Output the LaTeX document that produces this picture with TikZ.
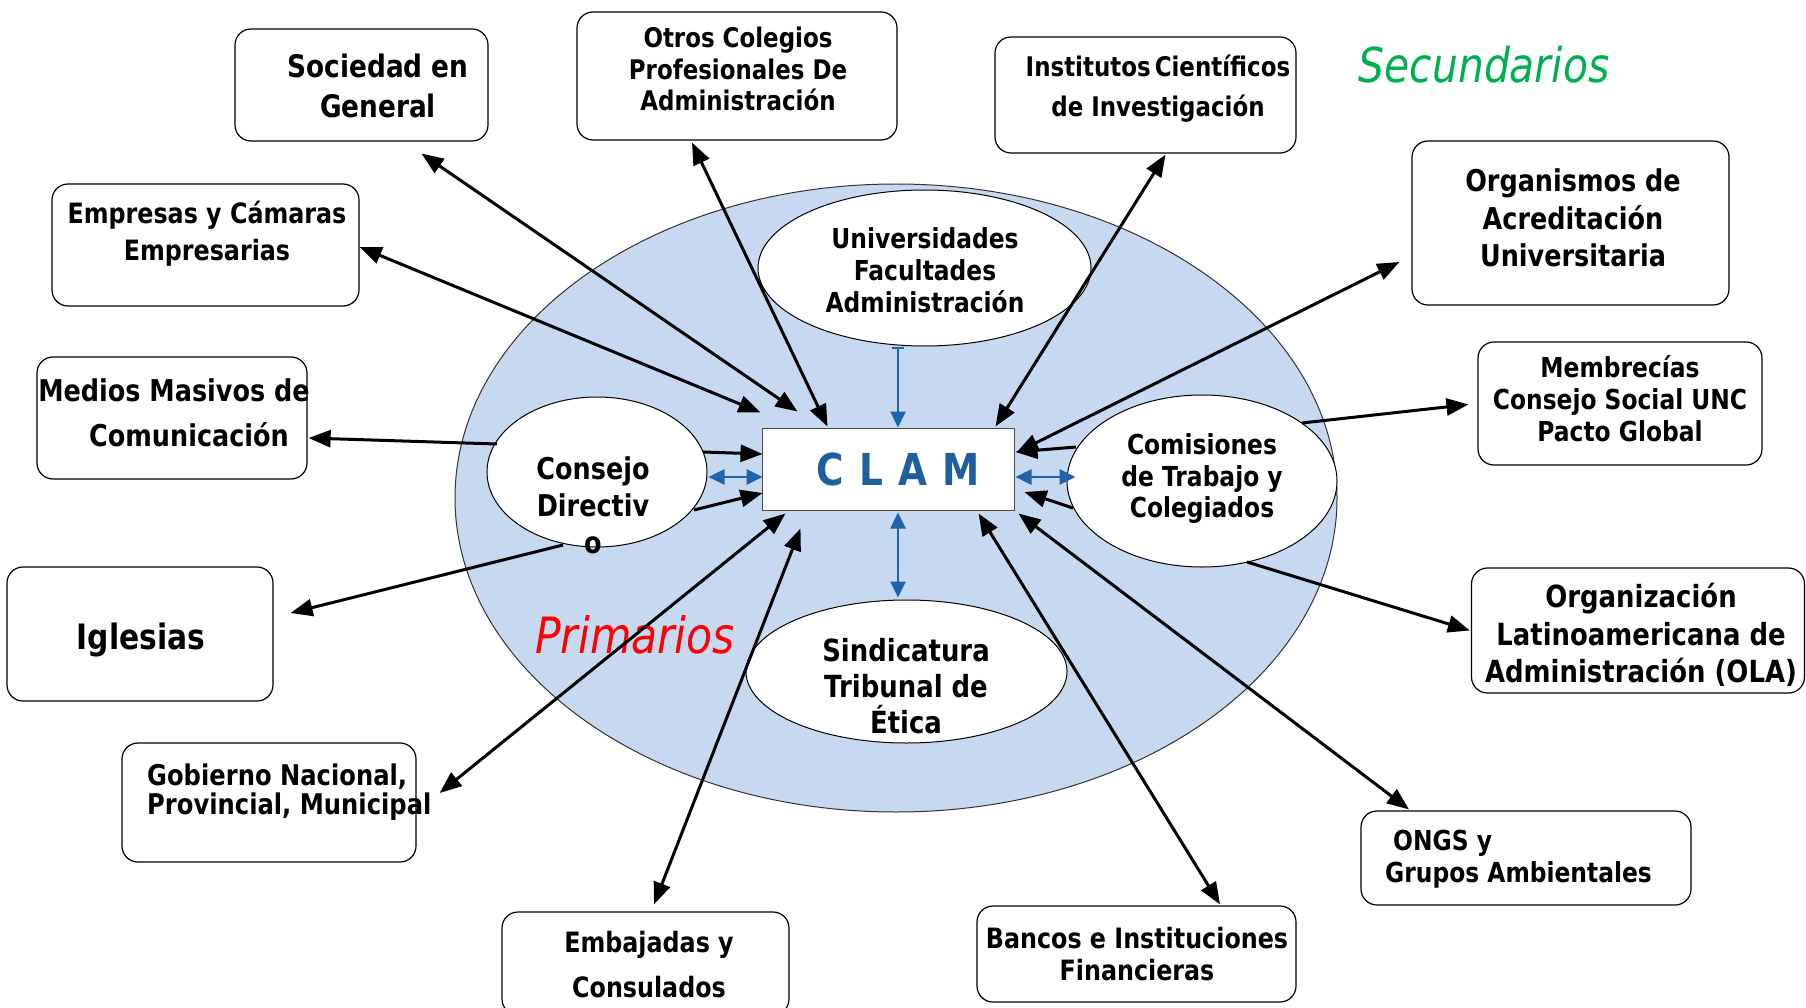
\documentclass[tikz,border=0pt]{standalone}
\usepackage{fontspec}
\setmainfont{DejaVu Sans}[FakeStretch=0.85]
\usetikzlibrary{shapes.geometric,arrows.meta,calc}
\definecolor{ringblue}{RGB}{198,217,240}
\definecolor{clamblue}{RGB}{31,95,160}
\definecolor{arrblue}{RGB}{31,99,168}
\definecolor{secgreen}{RGB}{0,176,80}
\newcommand{\fs}[2]{\fontsize{#1pt}{#2pt}\selectfont}
\begin{document}
\begin{tikzpicture}[x=1pt,y=-1pt,
  box/.style={draw=black, line width=1.2pt, rounded corners=16pt, fill=white, inner sep=0pt},
  oval/.style={ellipse, draw=black, line width=1pt, fill=white, inner sep=0pt},
  lbl/.style={align=center, inner sep=0pt},
  dbl/.style={line width=3pt, {Triangle[length=22pt,width=17pt]}-{Triangle[length=22pt,width=17pt]}},
  one/.style={line width=3pt, -{Triangle[length=22pt,width=17pt]}},
  bdbl/.style={arrblue, line width=2.6pt, {Triangle[length=16pt,width=15pt]}-{Triangle[length=16pt,width=15pt]}},
]
\useasboundingbox (0,0) rectangle (1806,1008);

% central ring
\node[ellipse, draw=black!80, line width=1pt, fill=ringblue, minimum width=882pt, minimum height=628pt, inner sep=0pt] (outer) at (896,498) {};
\node[oval, minimum width=333pt, minimum height=156pt] (univ) at (924.5,268) {};
\node[oval, minimum width=220pt, minimum height=150pt] (cons) at (597,472) {};
\node[oval, minimum width=270pt, minimum height=172pt] (com) at (1202,481) {};
\node[oval, minimum width=321pt, minimum height=143pt] (sind) at (906.5,671.5) {};
\node[draw=black!70, line width=1pt, fill=white, minimum width=252pt, minimum height=82pt, inner sep=0pt] (clam) at (888,469) {};

% outer boxes
\node[box, minimum width=253pt, minimum height=112pt] (soc) at (361.5,85) {};
\node[box, minimum width=320pt, minimum height=128pt] (otros) at (737,76) {};
\node[box, minimum width=307pt, minimum height=122pt] (emp) at (205.5,245) {};
\node[box, minimum width=270pt, minimum height=122pt] (medios) at (172,418) {};
\node[box, minimum width=301pt, minimum height=116pt] (inst) at (1145.5,95) {};
\node[box, minimum width=317pt, minimum height=164pt] (org) at (1570.5,223) {};
\node[box, minimum width=284pt, minimum height=123pt] (memb) at (1620,403.5) {};
\node[box, minimum width=333pt, minimum height=125pt] (ola) at (1638,630.5) {};
\node[box, minimum width=330pt, minimum height=94pt] (ongs) at (1526,858) {};
\node[box, minimum width=319pt, minimum height=96pt] (bancos) at (1136.5,954) {};
\node[box, minimum width=287pt, minimum height=103pt] (emb) at (645.5,963.5) {};
\node[box, minimum width=294pt, minimum height=119pt] (gob) at (269,802.5) {};
\node[box, minimum width=266pt, minimum height=134pt] (igl) at (140,634) {};

% texts
\node[lbl, font=\bfseries\fs{31}{40}] (soct) at (378,86) {Sociedad en\\General};
\node[lbl, font=\bfseries\fs{27}{31.5}] (otrost) at (738,69) {Otros Colegios\\Profesionales De\\Administración};
\node[lbl, font=\bfseries\fs{28}{37}] (empt) at (207,234) {Empresas y Cámaras\\Empresarias};
\node[lbl, font=\bfseries\fs{30}{45}] (mediost) at (174,413) {Medios Masivos de\\\hspace*{30pt}Comunicación};
\node[lbl, font=\bfseries\fs{27}{40}] (instt) at (1158,89) {Institutos\hspace{-4pt} Científicos\\de Investigación};
\node[lbl, font=\bfseries\fs{30}{37.5}] (orgt) at (1573,218) {Organismos de\\Acreditación\\Universitaria};
\node[lbl, font=\bfseries\fs{27.5}{32}] (membt) at (1620,399) {Membrecías\\Consejo Social UNC\\Pacto Global};
\node[lbl, font=\bfseries\fs{30.5}{37.5}] (olat) at (1641,635) {Organización\\Latinoamericana de\\Administración (OLA)};
\node[lbl, align=left, anchor=west, font=\bfseries\fs{27.5}{32}] (ongst) at (1385,859) {\hspace*{8pt}ONGS y\\Grupos Ambientales};
\node[lbl, font=\bfseries\fs{28}{32}] (bancost) at (1137,954) {Bancos e Instituciones\\Financieras};
\node[lbl, font=\bfseries\fs{28}{45}] (embt) at (649,965) {Embajadas y\\Consulados};
\node[lbl, align=left, anchor=west, font=\bfseries\fs{28.5}{29}] (gobt) at (147,792) {Gobierno Nacional,\\Provincial, Municipal};
\node[lbl, font=\bfseries\fs{35}{40}] (iglt) at (141,640) {Iglesias};
\node[lbl, font=\bfseries\fs{30}{37}] (const) at (593,505) {Consejo\\Directiv\\o};
\node[lbl, font=\bfseries\fs{27.5}{31.5}] (comt) at (1202,479) {Comisiones\\de Trabajo y\\Colegiados};
\node[lbl, font=\bfseries\fs{27.5}{32}] (univt) at (925,270) {Universidades\\Facultades\\Administración};
\node[lbl, font=\bfseries\fs{30.5}{36}] (sindt) at (906,686) {Sindicatura\\Tribunal de\\Ética};
\node[lbl, text=clamblue, font=\bfseries\fs{44}{44}] (clamt) at (898,469) {\spaceskip=15pt\relax C L A M};
\node[lbl, text=red, font=\itshape\fs{50}{50}] (prim) at (635,635) {Primarios};
\node[lbl, text=secgreen, font=\itshape\fs{48}{48}] (sec) at (1484,65) {Secundarios};

% black connectors
\draw[dbl] ($(soc.south)+(60,12)$) -- ($(clam.north west)+(36,-16)$);
\draw[dbl] ($(emp.east)+(0,2)$) -- ($(clam.north west)+(-1,-15)$);
\draw[dbl] ($(otros.south)+(-45,2)$) -- ($(clam.north west)+(66,-1)$);
\draw[dbl] ($(inst.south)+(20,1)$) -- ($(clam.north east)+(-19,-1)$);
\draw[dbl] ($(org.west)+(-12,39)$) -- ($(clam.north east)+(2,25)$);
\draw[one] ($(com.center)+(100,-58)$) -- ($(memb.west)+(-9,1)$);
\draw[one] ($(com.center)+(45,81)$) -- ($(ola.west)+(-1,0)$);
\draw[dbl] ($(clam.south east)+(4,3)$) -- ($(ongs.north)+(-117,-1)$);
\draw[dbl] ($(clam.south east)+(-36,3)$) -- ($(bancos.north)+(83.5,-1)$);
\draw[dbl] ($(clam.south west)+(39,18)$) -- ($(emb.north)+(8.5,-7)$);
\draw[dbl] ($(clam.south west)+(24,3)$) -- ($(gob.east)+(23,-9.5)$);
\draw[one] ($(cons.center)+(-34,73)$) -- ($(igl.east)+(17,-21)$);
\draw[one] ($(cons.center)+(-100,-28)$) -- ($(medios.east)+(1,20)$);
\draw[one] ($(cons.center)+(106,-20)$) -- ($(clam.west)+(1,-15)$);
\draw[one] ($(cons.center)+(97,38)$) -- ($(clam.west)+(1,24)$);
\draw[one] ($(com.center)+(-126,-34)$) -- ($(clam.east)+(1,-17)$);
\draw[one] ($(com.center)+(-129,27)$) -- ($(clam.east)+(10,23)$);

% blue connectors
\draw[bdbl] ($(cons.east)+(1,5)$) -- ($(clam.west)+(1,8)$);
\draw[bdbl] ($(com.west)+(9,-4)$) -- ($(clam.east)+(1,8)$);
\draw[arrblue, line width=2.6pt, {Bar[width=12pt]}-{Triangle[length=16pt,width=15pt]}] ($(univ.south)+(-26.5,0)$) -- ($(clam.north)+(10,0)$);
\draw[bdbl] ($(clam.south)+(10,2)$) -- ($(sind.north)+(-8.5,-2)$);
\end{tikzpicture}
\end{document}
